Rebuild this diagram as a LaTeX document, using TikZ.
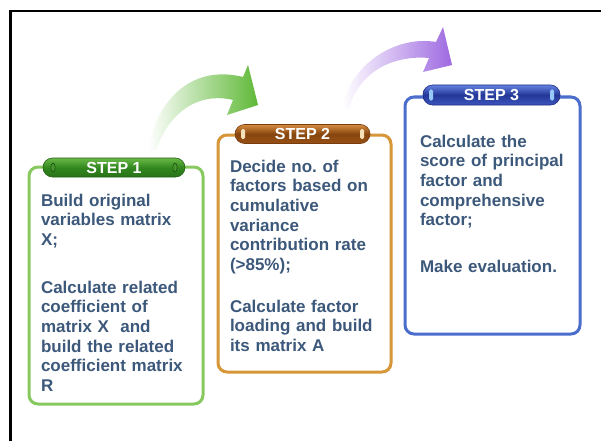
\documentclass[tikz,border=0pt]{standalone}
\usepackage{fontspec}
\setmainfont{Liberation Sans}
\frenchspacing
\definecolor{inkslate}{RGB}{60,88,122}
\definecolor{grnline}{RGB}{135,200,95}
\definecolor{orgline}{RGB}{215,150,55}
\definecolor{bluline}{RGB}{75,110,205}
\definecolor{grnarrow}{RGB}{95,185,55}
\definecolor{purarrow}{RGB}{158,105,225}
\definecolor{g1top}{RGB}{105,185,70}
\definecolor{g1mid}{RGB}{50,135,30}
\definecolor{g1bot}{RGB}{40,115,25}
\definecolor{g1edge}{RGB}{35,95,20}
\definecolor{g1pin}{RGB}{70,150,45}
\definecolor{g1pinedge}{RGB}{25,70,15}
\definecolor{o1top}{RGB}{215,140,65}
\definecolor{o1mid}{RGB}{135,70,15}
\definecolor{o1bot}{RGB}{150,80,20}
\definecolor{o1edge}{RGB}{120,60,15}
\definecolor{o1pin}{RGB}{245,225,185}
\definecolor{b1top}{RGB}{100,130,225}
\definecolor{b1mid}{RGB}{35,55,150}
\definecolor{b1bot}{RGB}{60,85,190}
\definecolor{b1edge}{RGB}{30,45,130}
\definecolor{b1pin}{RGB}{150,200,250}
\begin{document}
\begin{tikzpicture}[x=1pt,y=-1pt,
  every node/.style={inner sep=0pt, outer sep=0pt},
  stepbox/.style={draw=#1, line width=3pt, rounded corners=9pt, fill=white},
  banner/.style={rounded corners=9.5pt, minimum height=19pt, line width=0.6pt,
    font=\bfseries\fontsize{16}{16}\selectfont, text=white},
  bodytext/.style={anchor=base west, text width=170pt, align=left, text=inkslate,
    font=\bfseries\fontsize{17}{19.7}\selectfont},
  greenpin/.style={draw=g1pinedge, line width=0.5pt, fill=g1pin},
]
% page frame and outer border lines
\useasboundingbox (0,0) rectangle (601,441);
\fill[white] (0,0) rectangle (601,441);
\draw[line width=2.5pt] (10.3,441) -- (10.3,11.2) -- (601,11.2);

% curved arrows between the steps
\shade[left color=white, right color=grnarrow]
  (148,150) .. controls (158,95) and (195,65) .. (243,77)
  -- (248,65) -- (258,105) -- (227,115) -- (233,100)
  .. controls (205,93) and (172,105) .. (156,150) -- cycle;
\shade[left color=white, right color=purarrow]
  (342,108) .. controls (350,65) and (395,35) .. (436,42)
  -- (443,27) -- (452,65) -- (423,72) -- (429,58)
  .. controls (395,55) and (360,70) .. (349,108) -- cycle;

% step boxes
\node[stepbox=grnline, minimum width=174pt, minimum height=237pt] (box1) at (116,285.5) {};
\node[stepbox=orgline, minimum width=173pt, minimum height=237pt] (box2) at (304.5,253.5) {};
\node[stepbox=bluline, minimum width=175pt, minimum height=237pt] (box3) at (492.5,215.5) {};

% title banners
\node[banner, minimum width=142pt, draw=g1edge,
  top color=g1top, bottom color=g1bot, middle color=g1mid] (ban1) at (114,167.5) {STEP 1};
\node[banner, minimum width=135pt, draw=o1edge,
  top color=o1top, bottom color=o1bot, middle color=o1mid] (ban2) at (302.5,134) {STEP 2};
\node[banner, minimum width=137pt, minimum height=20pt, draw=b1edge,
  top color=b1top, bottom color=b1bot, middle color=b1mid] (ban3) at (491.5,95) {STEP 3};

% pins at the banner ends
\filldraw[greenpin] ([xshift=10pt]ban1.west) ellipse (2.2pt and 4.5pt);
\filldraw[greenpin] ([xshift=-10pt]ban1.east) ellipse (2.2pt and 4.5pt);
\fill[o1pin, rounded corners=1.5pt] ([xshift=8pt]ban2.west) ++(-2,-5) rectangle ++(4,10);
\fill[o1pin, rounded corners=1.5pt] ([xshift=-8pt]ban2.east) ++(-2,-5) rectangle ++(4,10);
\fill[b1pin, rounded corners=1.5pt] ([xshift=8pt]ban3.west) ++(-2,-5.5) rectangle ++(4,11);
\fill[b1pin, rounded corners=1.5pt] ([xshift=-8pt]ban3.east) ++(-2,-5.5) rectangle ++(4,11);

% step 1 text
\node[bodytext] (s1a) at (41,206) {Build original\\variables matrix\\X;};
\node[bodytext] (s1b) at (41,293) {Calculate related\\coefficient of\\matrix X\ \ and\\build the related\\coefficient matrix\\R};

% step 2 text
\node[bodytext] (s2a) at (230,172) {Decide no. of\\factors based on\\cumulative\\variance\\contribution rate\\(>85\%);};
\node[bodytext] (s2b) at (230,312) {Calculate factor\\loading and build\\its matrix A};

% step 3 text
\node[bodytext] (s3a) at (420,147) {Calculate the\\score of principal\\factor and\\comprehensive\\factor;};
\node[bodytext] (s3b) at (420,272) {Make evaluation.};
\end{tikzpicture}
\end{document}
